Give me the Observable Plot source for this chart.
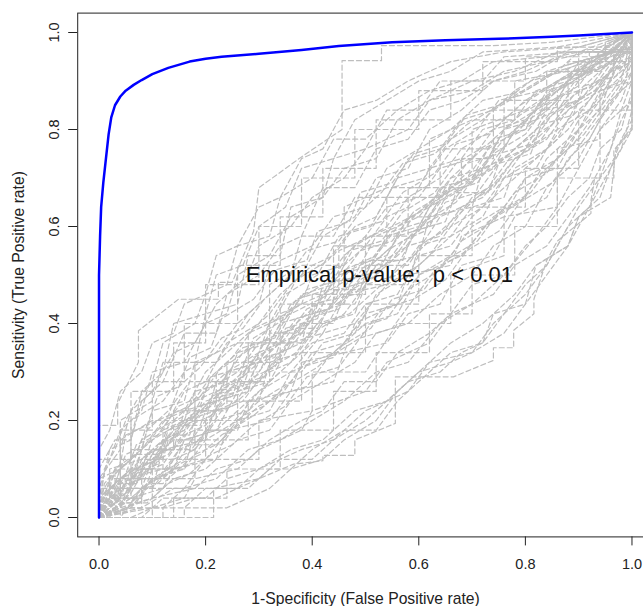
<!DOCTYPE html>
<html><head><meta charset="utf-8">
<script src="https://cdn.jsdelivr.net/npm/d3@7"></script>
<script src="https://cdn.jsdelivr.net/npm/@observablehq/plot@0.6"></script>
<style>
html,body{margin:0;padding:0;background:#fff;overflow:hidden;}
#chart svg{max-width:none !important;}
#chart svg text{white-space:pre;}
#chart g[aria-label="x-axis label"], #chart g[aria-label="y-axis label"]{font-size:15.7px;}
</style></head><body><div id="chart"></div>
<script>
// Observed ROC curve (blue)
const rocFPR = [0,0,0.002,0.004,0.008,0.012,0.018,0.023,0.03,0.04,0.05,0.065,0.08,0.1,0.13,0.17,0.2,0.23,0.3,0.38,0.45,0.55,0.65,0.75,0.85,0.9,0.95,1];
const rocTPR = [0,0.5,0.58,0.64,0.69,0.73,0.79,0.825,0.85,0.868,0.88,0.892,0.902,0.914,0.927,0.94,0.946,0.95,0.956,0.964,0.972,0.98,0.984,0.987,0.991,0.994,0.997,1];

// Permutation (null) ROC curves (grey dashed), [FPR, TPR] points
const nullCurves = [
[[0,0],[0,0.19],[0.035,0.19],[0.035,0.235],[0.074,0.32],[0.074,0.385],[0.149,0.45],[0.224,0.45],[0.224,0.485],[0.25,0.485],[0.29,0.59],[0.3,0.68],[0.378,0.742],[0.456,0.8],[0.456,0.942],[0.53,0.942],[0.53,0.973],[0.74,0.973],[0.85,0.98],[1,1]],
[[0,0],[0.215,0],[0.215,0.06],[0.3,0.08],[0.365,0.11],[0.42,0.117],[0.42,0.128],[0.48,0.128],[0.48,0.16],[0.556,0.194],[0.556,0.29],[0.665,0.29],[0.74,0.324],[0.74,0.35],[0.778,0.35],[0.778,0.386],[0.816,0.42],[0.816,0.45],[0.84,0.53],[0.86,0.57],[0.923,0.627],[0.923,0.653],[0.93,0.7],[0.966,0.7],[0.966,0.757],[1,0.805],[1,1]],
[[0,0],[0.03,0.02],[0.05,0.08],[0.12,0.1],[0.12,0.18],[0.2,0.22],[0.28,0.3],[0.28,0.38],[0.36,0.42],[0.45,0.47],[0.45,0.55],[0.55,0.6],[0.62,0.64],[0.7,0.72],[0.7,0.8],[0.8,0.84],[0.88,0.9],[0.95,0.93],[0.95,0.97],[1,1]],
[[0,0],[0,0.04],[0.06,0.1],[0.1,0.1],[0.16,0.2],[0.22,0.2],[0.22,0.3],[0.3,0.36],[0.38,0.36],[0.44,0.44],[0.5,0.52],[0.58,0.52],[0.64,0.62],[0.72,0.66],[0.78,0.74],[0.86,0.8],[0.86,0.88],[0.92,0.92],[1,0.96],[1,1]],
[[0,0],[0.04,0],[0.08,0.06],[0.14,0.1],[0.2,0.12],[0.26,0.2],[0.32,0.22],[0.36,0.3],[0.44,0.34],[0.5,0.4],[0.56,0.42],[0.6,0.5],[0.68,0.54],[0.74,0.62],[0.8,0.66],[0.84,0.74],[0.9,0.8],[0.94,0.88],[0.98,0.9],[1,1]],
[[0,0],[0,0.08],[0.04,0.14],[0.06,0.22],[0.1,0.26],[0.14,0.34],[0.18,0.36],[0.22,0.44],[0.28,0.5],[0.3,0.56],[0.36,0.6],[0.4,0.66],[0.46,0.7],[0.5,0.76],[0.58,0.8],[0.62,0.86],[0.7,0.9],[0.78,0.92],[0.86,0.96],[0.94,0.96],[1,1]],
[[0,0],[0.02,0.04],[0.02,0.1],[0.08,0.12],[0.12,0.16],[0.18,0.16],[0.18,0.24],[0.26,0.28],[0.3,0.34],[0.34,0.42],[0.42,0.46],[0.48,0.5],[0.52,0.58],[0.6,0.62],[0.66,0.7],[0.72,0.76],[0.8,0.8],[0.86,0.86],[0.9,0.94],[0.96,0.96],[1,1]],
[[0,0],[0.06,0.02],[0.12,0.02],[0.16,0.06],[0.22,0.08],[0.28,0.14],[0.34,0.16],[0.4,0.2],[0.46,0.24],[0.52,0.3],[0.58,0.32],[0.64,0.4],[0.7,0.44],[0.76,0.5],[0.82,0.58],[0.86,0.64],[0.9,0.72],[0.94,0.8],[0.98,0.86],[1,0.92],[1,1]],
[[0,0],[0.02,0.06],[0.06,0.1],[0.08,0.16],[0.14,0.2],[0.2,0.26],[0.24,0.3],[0.3,0.32],[0.34,0.4],[0.4,0.42],[0.44,0.5],[0.52,0.54],[0.56,0.6],[0.64,0.66],[0.7,0.7],[0.76,0.78],[0.82,0.84],[0.88,0.88],[0.92,0.94],[1,0.96],[1,1]],
[[0,0],[0.04,0.04],[0.06,0.04],[0.1,0.08],[0.16,0.12],[0.2,0.18],[0.24,0.18],[0.3,0.26],[0.36,0.3],[0.42,0.38],[0.48,0.4],[0.54,0.48],[0.6,0.52],[0.66,0.58],[0.72,0.62],[0.76,0.7],[0.82,0.74],[0.88,0.8],[0.92,0.86],[0.96,0.92],[1,1]],
[[0,0],[0,0.06],[0.02,0.12],[0.04,0.18],[0.08,0.22],[0.1,0.3],[0.16,0.32],[0.2,0.4],[0.24,0.42],[0.26,0.5],[0.32,0.54],[0.36,0.62],[0.42,0.66],[0.46,0.72],[0.52,0.74],[0.56,0.82],[0.62,0.86],[0.7,0.88],[0.76,0.92],[0.84,0.94],[0.92,0.96],[1,1]],
[[0,0],[0.08,0],[0.12,0.04],[0.2,0.04],[0.24,0.08],[0.3,0.1],[0.36,0.14],[0.42,0.16],[0.48,0.22],[0.54,0.24],[0.6,0.3],[0.66,0.36],[0.72,0.4],[0.78,0.46],[0.82,0.52],[0.88,0.56],[0.92,0.64],[0.96,0.72],[1,0.8],[1,1]],
[[0,0],[0.02,0.02],[0.04,0.08],[0.1,0.12],[0.14,0.18],[0.18,0.2],[0.22,0.26],[0.3,0.28],[0.34,0.34],[0.38,0.36],[0.4,0.44],[0.48,0.46],[0.52,0.52],[0.58,0.56],[0.62,0.64],[0.68,0.68],[0.74,0.72],[0.78,0.8],[0.86,0.84],[0.9,0.9],[0.96,0.94],[1,1]],
[[0,0],[0,0.02],[0.04,0.06],[0.08,0.08],[0.12,0.14],[0.18,0.14],[0.22,0.22],[0.26,0.24],[0.32,0.3],[0.36,0.32],[0.4,0.38],[0.46,0.42],[0.5,0.48],[0.56,0.5],[0.6,0.56],[0.66,0.6],[0.7,0.66],[0.76,0.7],[0.8,0.76],[0.86,0.82],[0.9,0.86],[0.96,0.9],[1,1]],
[[0,0],[0.02,0.08],[0.06,0.12],[0.06,0.2],[0.12,0.24],[0.16,0.3],[0.22,0.34],[0.26,0.4],[0.3,0.44],[0.32,0.52],[0.4,0.56],[0.44,0.62],[0.5,0.64],[0.54,0.72],[0.6,0.76],[0.66,0.8],[0.72,0.86],[0.8,0.88],[0.86,0.92],[0.92,0.94],[0.96,0.98],[1,1]],
[[0,0],[0.04,0.02],[0.1,0.04],[0.14,0.08],[0.2,0.1],[0.26,0.16],[0.32,0.18],[0.36,0.24],[0.42,0.28],[0.48,0.32],[0.52,0.38],[0.58,0.4],[0.64,0.46],[0.7,0.5],[0.74,0.56],[0.8,0.6],[0.84,0.68],[0.9,0.74],[0.94,0.82],[0.98,0.88],[1,0.94],[1,1]],
[[0,0],[0.06,0.06],[0.06,0.14],[0.14,0.14],[0.14,0.22],[0.24,0.22],[0.24,0.32],[0.34,0.32],[0.34,0.44],[0.44,0.44],[0.44,0.56],[0.54,0.56],[0.54,0.66],[0.64,0.66],[0.64,0.76],[0.76,0.76],[0.76,0.86],[0.88,0.86],[0.88,0.94],[1,0.94],[1,1]],
[[0,0],[0.1,0],[0.1,0.08],[0.18,0.08],[0.18,0.16],[0.28,0.16],[0.28,0.24],[0.38,0.24],[0.38,0.34],[0.5,0.34],[0.5,0.44],[0.6,0.44],[0.6,0.54],[0.7,0.54],[0.7,0.64],[0.8,0.64],[0.8,0.72],[0.9,0.72],[0.9,0.84],[1,0.84],[1,1]],
[[0,0],[0,0.12],[0.06,0.12],[0.06,0.26],[0.14,0.26],[0.14,0.36],[0.2,0.36],[0.2,0.48],[0.3,0.48],[0.3,0.6],[0.38,0.6],[0.38,0.7],[0.48,0.7],[0.48,0.8],[0.6,0.8],[0.6,0.88],[0.72,0.88],[0.72,0.94],[0.86,0.94],[0.86,0.97],[1,0.97],[1,1]],
[[0,0],[0.14,0],[0.14,0.04],[0.24,0.04],[0.24,0.1],[0.34,0.1],[0.34,0.18],[0.44,0.18],[0.44,0.26],[0.52,0.26],[0.52,0.34],[0.62,0.34],[0.62,0.42],[0.7,0.42],[0.7,0.5],[0.78,0.5],[0.78,0.6],[0.86,0.6],[0.86,0.7],[0.94,0.7],[0.94,0.8],[1,0.86],[1,1]],
[[0,0],[0.02,0.03],[0.05,0.05],[0.09,0.11],[0.13,0.13],[0.17,0.19],[0.21,0.21],[0.25,0.27],[0.31,0.29],[0.35,0.35],[0.39,0.41],[0.45,0.43],[0.49,0.49],[0.55,0.53],[0.59,0.59],[0.65,0.63],[0.69,0.69],[0.75,0.73],[0.81,0.79],[0.87,0.85],[0.93,0.91],[0.97,0.95],[1,1]],
[[0,0],[0.01,0.05],[0.05,0.09],[0.07,0.15],[0.11,0.17],[0.15,0.23],[0.19,0.25],[0.23,0.31],[0.27,0.35],[0.33,0.37],[0.37,0.45],[0.43,0.47],[0.47,0.55],[0.53,0.57],[0.57,0.63],[0.63,0.67],[0.67,0.73],[0.73,0.77],[0.79,0.83],[0.85,0.87],[0.91,0.93],[0.97,0.97],[1,1]],
[[0,0],[0.05,0.01],[0.07,0.05],[0.11,0.07],[0.15,0.11],[0.19,0.13],[0.23,0.17],[0.29,0.21],[0.33,0.25],[0.39,0.27],[0.43,0.33],[0.49,0.37],[0.53,0.43],[0.59,0.45],[0.63,0.51],[0.69,0.55],[0.73,0.61],[0.79,0.65],[0.83,0.71],[0.89,0.77],[0.93,0.83],[0.97,0.89],[1,0.95],[1,1]],
[[0,0],[0,0.04],[0.02,0.14],[0.06,0.16],[0.08,0.24],[0.12,0.28],[0.16,0.38],[0.22,0.38],[0.24,0.46],[0.3,0.5],[0.34,0.56],[0.38,0.58],[0.42,0.68],[0.48,0.68],[0.52,0.76],[0.58,0.78],[0.62,0.84],[0.68,0.86],[0.74,0.9],[0.82,0.92],[0.88,0.96],[0.96,0.96],[1,1]],
[[0,0],[0.06,0],[0.1,0.02],[0.16,0.04],[0.18,0.08],[0.26,0.1],[0.3,0.14],[0.38,0.18],[0.4,0.22],[0.5,0.26],[0.54,0.32],[0.62,0.36],[0.66,0.42],[0.74,0.46],[0.78,0.52],[0.84,0.56],[0.88,0.62],[0.92,0.68],[0.96,0.76],[0.98,0.84],[1,0.9],[1,1]],
[[0,0],[0.03,0.07],[0.07,0.07],[0.11,0.13],[0.15,0.15],[0.19,0.21],[0.25,0.23],[0.29,0.29],[0.33,0.31],[0.37,0.39],[0.41,0.39],[0.45,0.47],[0.51,0.49],[0.57,0.55],[0.61,0.61],[0.67,0.65],[0.71,0.71],[0.77,0.75],[0.83,0.81],[0.87,0.87],[0.93,0.89],[0.97,0.95],[1,1]],
[[0,0],[0.04,0.04],[0.04,0.16],[0.1,0.2],[0.18,0.2],[0.18,0.32],[0.26,0.36],[0.32,0.36],[0.32,0.48],[0.38,0.52],[0.46,0.52],[0.46,0.64],[0.54,0.68],[0.62,0.68],[0.62,0.78],[0.7,0.82],[0.78,0.82],[0.78,0.9],[0.88,0.92],[0.94,0.92],[0.94,0.96],[1,1]],
[[0,0],[0.08,0.02],[0.08,0.06],[0.16,0.06],[0.2,0.12],[0.3,0.12],[0.3,0.2],[0.4,0.22],[0.4,0.3],[0.5,0.3],[0.56,0.4],[0.66,0.4],[0.66,0.5],[0.76,0.54],[0.76,0.62],[0.86,0.64],[0.86,0.76],[0.94,0.78],[0.94,0.88],[1,0.9],[1,1]],
[[0,0],[0.01,0.02],[0.03,0.1],[0.07,0.1],[0.09,0.18],[0.13,0.22],[0.17,0.28],[0.23,0.28],[0.27,0.34],[0.31,0.38],[0.35,0.46],[0.41,0.5],[0.45,0.58],[0.51,0.6],[0.55,0.68],[0.61,0.7],[0.65,0.76],[0.71,0.8],[0.75,0.86],[0.83,0.88],[0.89,0.92],[0.95,0.94],[0.98,0.98],[1,1]],
[[0,0],[0.03,0.01],[0.07,0.03],[0.09,0.07],[0.13,0.09],[0.17,0.15],[0.23,0.15],[0.27,0.21],[0.31,0.23],[0.35,0.27],[0.41,0.31],[0.45,0.35],[0.51,0.39],[0.55,0.45],[0.61,0.47],[0.65,0.53],[0.71,0.57],[0.75,0.63],[0.81,0.67],[0.85,0.73],[0.91,0.79],[0.95,0.85],[0.99,0.91],[1,1]],
[[0,0],[0.02,0],[0.04,0.06],[0.1,0.06],[0.12,0.14],[0.2,0.16],[0.22,0.24],[0.28,0.26],[0.3,0.34],[0.38,0.38],[0.42,0.44],[0.48,0.44],[0.52,0.52],[0.6,0.54],[0.62,0.62],[0.7,0.64],[0.72,0.72],[0.8,0.76],[0.84,0.84],[0.9,0.86],[0.9,0.96],[1,0.96],[1,1]],
[[0,0],[0,0.08],[0.04,0.1],[0.04,0.2],[0.1,0.24],[0.12,0.32],[0.18,0.32],[0.2,0.42],[0.26,0.44],[0.28,0.54],[0.34,0.54],[0.36,0.64],[0.42,0.66],[0.44,0.74],[0.5,0.76],[0.54,0.84],[0.6,0.84],[0.64,0.9],[0.72,0.9],[0.76,0.95],[0.9,0.96],[1,1]],
[[0,0],[0.1,0.02],[0.16,0.02],[0.2,0.06],[0.28,0.06],[0.32,0.1],[0.36,0.1],[0.4,0.14],[0.46,0.18],[0.52,0.18],[0.56,0.24],[0.62,0.3],[0.66,0.34],[0.72,0.36],[0.74,0.42],[0.8,0.44],[0.82,0.52],[0.88,0.56],[0.9,0.62],[0.96,0.66],[0.97,0.76],[1,0.8],[1,1]],
[[0,0],[0.02,0.04],[0.04,0.04],[0.06,0.1],[0.1,0.1],[0.12,0.16],[0.16,0.18],[0.2,0.24],[0.26,0.26],[0.28,0.32],[0.34,0.34],[0.38,0.4],[0.44,0.4],[0.46,0.46],[0.54,0.48],[0.58,0.56],[0.64,0.58],[0.68,0.64],[0.74,0.68],[0.78,0.74],[0.84,0.78],[0.88,0.84],[0.94,0.88],[0.97,0.94],[1,1]],
[[0,0],[0.02,0.02],[0.02,0.08],[0.06,0.08],[0.1,0.14],[0.14,0.14],[0.16,0.22],[0.22,0.24],[0.24,0.3],[0.3,0.3],[0.34,0.38],[0.4,0.4],[0.42,0.48],[0.5,0.5],[0.54,0.58],[0.6,0.6],[0.64,0.68],[0.7,0.7],[0.74,0.78],[0.8,0.8],[0.84,0.88],[0.9,0.9],[0.94,0.96],[1,0.96],[1,1]],
[[0,0],[0,0.1],[0.03,0.16],[0.06,0.16],[0.08,0.26],[0.12,0.3],[0.14,0.4],[0.2,0.42],[0.22,0.5],[0.27,0.52],[0.3,0.6],[0.35,0.64],[0.38,0.72],[0.44,0.74],[0.48,0.82],[0.54,0.86],[0.6,0.9],[0.66,0.92],[0.72,0.96],[0.86,0.97],[1,1]],
[[0,0],[0.06,0.04],[0.12,0.06],[0.14,0.1],[0.22,0.12],[0.24,0.18],[0.32,0.2],[0.36,0.26],[0.44,0.28],[0.46,0.34],[0.54,0.36],[0.58,0.42],[0.64,0.44],[0.68,0.52],[0.74,0.54],[0.78,0.62],[0.84,0.66],[0.88,0.74],[0.92,0.78],[0.96,0.86],[1,0.9],[1,1]],
[[0,0],[0.01,0.03],[0.03,0.05],[0.05,0.09],[0.09,0.11],[0.11,0.15],[0.15,0.17],[0.17,0.21],[0.21,0.23],[0.23,0.27],[0.27,0.29],[0.31,0.33],[0.35,0.37],[0.39,0.43],[0.43,0.45],[0.47,0.51],[0.51,0.53],[0.55,0.59],[0.61,0.61],[0.65,0.67],[0.71,0.69],[0.75,0.75],[0.81,0.77],[0.85,0.83],[0.91,0.87],[0.95,0.93],[1,0.95],[1,1]],
[[0,0],[0.03,0.05],[0.05,0.05],[0.07,0.09],[0.11,0.11],[0.13,0.17],[0.17,0.17],[0.19,0.23],[0.25,0.25],[0.27,0.31],[0.33,0.33],[0.35,0.39],[0.41,0.41],[0.43,0.47],[0.49,0.47],[0.51,0.53],[0.57,0.53],[0.59,0.59],[0.65,0.61],[0.67,0.67],[0.73,0.67],[0.75,0.73],[0.81,0.75],[0.83,0.81],[0.89,0.83],[0.91,0.89],[0.97,0.91],[1,0.96],[1,1]],
[[0,0],[0.01,0.07],[0.04,0.11],[0.05,0.17],[0.09,0.19],[0.11,0.25],[0.15,0.27],[0.17,0.33],[0.21,0.35],[0.23,0.41],[0.29,0.45],[0.33,0.51],[0.39,0.53],[0.41,0.59],[0.47,0.61],[0.49,0.67],[0.55,0.69],[0.59,0.75],[0.65,0.77],[0.69,0.83],[0.75,0.85],[0.81,0.9],[0.87,0.92],[0.93,0.95],[1,0.97],[1,1]],
[[0,0],[0.12,0],[0.12,0.02],[0.18,0.04],[0.22,0.04],[0.26,0.06],[0.3,0.08],[0.34,0.12],[0.4,0.12],[0.44,0.16],[0.5,0.2],[0.52,0.22],[0.58,0.28],[0.64,0.3],[0.68,0.34],[0.72,0.36],[0.76,0.42],[0.8,0.48],[0.84,0.52],[0.88,0.6],[0.92,0.64],[0.94,0.7],[0.98,0.76],[1,0.84],[1,1]],
[[0,0],[0.1,0.04],[0.18,0.06],[0.26,0.06],[0.3,0.1],[0.38,0.14],[0.44,0.16],[0.5,0.22],[0.58,0.26],[0.62,0.32],[0.7,0.34],[0.74,0.4],[0.8,0.46],[0.84,0.52],[0.88,0.6],[0.9,0.64],[0.94,0.7],[0.96,0.76],[0.98,0.82],[1,0.86],[1,1]],
[[0,0],[0,0.02],[0.02,0.06],[0.06,0.06],[0.08,0.12],[0.12,0.12],[0.14,0.2],[0.2,0.2],[0.22,0.28],[0.28,0.28],[0.32,0.36],[0.36,0.36],[0.4,0.42],[0.46,0.44],[0.48,0.52],[0.54,0.54],[0.58,0.62],[0.62,0.62],[0.66,0.7],[0.72,0.72],[0.76,0.8],[0.82,0.82],[0.86,0.9],[0.92,0.92],[0.96,0.96],[1,1]],
[[0,0],[0,0.06],[0.04,0.06],[0.04,0.18],[0.1,0.18],[0.1,0.28],[0.16,0.28],[0.16,0.4],[0.26,0.4],[0.26,0.52],[0.34,0.52],[0.34,0.62],[0.42,0.62],[0.42,0.72],[0.52,0.72],[0.52,0.82],[0.66,0.82],[0.66,0.9],[0.8,0.9],[0.8,0.95],[0.95,0.95],[0.95,0.98],[1,1]],
[[0,0],[0.04,0],[0.04,0.08],[0.1,0.08],[0.1,0.12],[0.2,0.12],[0.2,0.2],[0.26,0.2],[0.26,0.28],[0.32,0.28],[0.32,0.38],[0.4,0.38],[0.4,0.46],[0.5,0.46],[0.5,0.58],[0.58,0.58],[0.58,0.68],[0.68,0.68],[0.68,0.74],[0.74,0.74],[0.74,0.84],[0.84,0.84],[0.84,0.92],[0.92,0.92],[0.92,0.96],[1,0.96],[1,1]],
[[0,0],[0.04,0.02],[0.06,0.08],[0.12,0.08],[0.16,0.16],[0.22,0.18],[0.26,0.26],[0.32,0.28],[0.36,0.36],[0.42,0.38],[0.46,0.46],[0.52,0.5],[0.56,0.58],[0.62,0.6],[0.66,0.68],[0.72,0.72],[0.76,0.8],[0.82,0.84],[0.86,0.9],[0.93,0.93],[0.966,0.965],[1,0.965],[1,1]],
[[0,0],[0.02,0.04],[0.08,0.04],[0.1,0.1],[0.16,0.1],[0.18,0.18],[0.26,0.18],[0.28,0.24],[0.36,0.26],[0.38,0.32],[0.46,0.34],[0.48,0.4],[0.56,0.44],[0.58,0.5],[0.66,0.52],[0.68,0.58],[0.76,0.62],[0.8,0.7],[0.86,0.72],[0.9,0.8],[0.94,0.84],[0.966,0.92],[0.966,0.965],[1,1]],
[[0,0],[0.01,0.1],[0.03,0.14],[0.05,0.2],[0.07,0.24],[0.1,0.28],[0.12,0.36],[0.18,0.4],[0.2,0.46],[0.24,0.48],[0.26,0.56],[0.32,0.58],[0.34,0.66],[0.4,0.7],[0.44,0.78],[0.5,0.78],[0.56,0.84],[0.62,0.88],[0.68,0.9],[0.74,0.94],[0.84,0.95],[0.9,0.97],[1,1]],
[[0,0],[0.04,0.06],[0.08,0.06],[0.1,0.12],[0.14,0.16],[0.18,0.22],[0.22,0.22],[0.24,0.3],[0.3,0.34],[0.32,0.4],[0.38,0.44],[0.4,0.5],[0.46,0.52],[0.5,0.56],[0.54,0.62],[0.58,0.64],[0.62,0.72],[0.68,0.74],[0.72,0.8],[0.78,0.82],[0.82,0.88],[0.88,0.9],[0.92,0.94],[0.966,0.94],[0.966,0.98],[1,1]],
[[0,0],[0.06,0.02],[0.08,0.02],[0.14,0.06],[0.18,0.06],[0.22,0.1],[0.28,0.12],[0.32,0.16],[0.38,0.2],[0.42,0.22],[0.46,0.28],[0.52,0.28],[0.56,0.34],[0.62,0.38],[0.66,0.42],[0.7,0.48],[0.76,0.5],[0.8,0.56],[0.84,0.6],[0.88,0.66],[0.92,0.7],[0.94,0.76],[0.98,0.8],[1,0.88],[1,1]],
[[0,0],[0.02,0.01],[0.04,0.03],[0.06,0.03],[0.08,0.05],[0.1,0.07],[0.12,0.07],[0.14,0.09],[0.18,0.13],[0.22,0.15],[0.26,0.19],[0.3,0.23],[0.34,0.25],[0.38,0.31],[0.44,0.33],[0.48,0.39],[0.54,0.41],[0.58,0.47],[0.64,0.51],[0.68,0.57],[0.74,0.61],[0.78,0.67],[0.84,0.71],[0.88,0.77],[0.92,0.83],[0.96,0.89],[1,0.93],[1,1]],
[[0,0],[0.01,0.01],[0.03,0.03],[0.05,0.07],[0.07,0.07],[0.09,0.13],[0.13,0.15],[0.15,0.19],[0.19,0.19],[0.21,0.25],[0.27,0.27],[0.29,0.33],[0.33,0.35],[0.37,0.41],[0.43,0.43],[0.47,0.49],[0.53,0.51],[0.57,0.57],[0.61,0.59],[0.65,0.65],[0.71,0.67],[0.75,0.73],[0.79,0.77],[0.85,0.81],[0.89,0.87],[0.95,0.91],[1,0.95],[1,1]],
[[0,0],[0,0.04],[0.03,0.1],[0.08,0.14],[0.1,0.22],[0.16,0.24],[0.18,0.32],[0.22,0.32],[0.28,0.42],[0.32,0.46],[0.36,0.5],[0.38,0.58],[0.44,0.58],[0.48,0.66],[0.54,0.66],[0.58,0.74],[0.64,0.76],[0.68,0.82],[0.74,0.84],[0.8,0.88],[0.86,0.92],[0.9,0.96],[1,0.96],[1,1]],
[[0,0],[0.06,0.04],[0.06,0.1],[0.1,0.14],[0.16,0.14],[0.2,0.2],[0.24,0.24],[0.3,0.24],[0.32,0.32],[0.38,0.34],[0.42,0.4],[0.48,0.42],[0.5,0.48],[0.58,0.48],[0.6,0.56],[0.66,0.58],[0.7,0.64],[0.76,0.66],[0.78,0.72],[0.84,0.76],[0.88,0.82],[0.92,0.86],[0.96,0.92],[1,0.94],[1,1]],
[[0,0],[0,0.14],[0.02,0.18],[0.04,0.26],[0.08,0.3],[0.1,0.36],[0.14,0.38],[0.16,0.44],[0.2,0.46],[0.22,0.54],[0.26,0.56],[0.3,0.64],[0.34,0.66],[0.38,0.74],[0.42,0.76],[0.46,0.84],[0.52,0.86],[0.58,0.9],[0.66,0.94],[0.76,0.96],[0.9,0.97],[1,1]],
[[0,0],[0.16,0],[0.16,0.02],[0.24,0.02],[0.28,0.04],[0.32,0.06],[0.36,0.1],[0.42,0.12],[0.46,0.16],[0.52,0.2],[0.56,0.26],[0.6,0.3],[0.66,0.32],[0.7,0.34],[0.76,0.38],[0.8,0.44],[0.84,0.5],[0.88,0.56],[0.9,0.62],[0.94,0.66],[0.96,0.72],[0.98,0.78],[1,0.82],[1,1]],
[[0,0],[0.02,0.02],[0.04,0.06],[0.08,0.1],[0.12,0.16],[0.16,0.18],[0.2,0.26],[0.26,0.3],[0.3,0.36],[0.34,0.38],[0.38,0.46],[0.44,0.48],[0.48,0.56],[0.54,0.6],[0.58,0.66],[0.64,0.7],[0.68,0.76],[0.74,0.8],[0.8,0.86],[0.86,0.9],[0.92,0.94],[0.966,0.96],[1,1]],
[[0,0],[0.04,0.02],[0.06,0.06],[0.1,0.06],[0.14,0.12],[0.18,0.14],[0.22,0.2],[0.28,0.22],[0.32,0.28],[0.36,0.32],[0.4,0.36],[0.46,0.38],[0.5,0.44],[0.56,0.46],[0.6,0.54],[0.66,0.56],[0.7,0.62],[0.76,0.68],[0.8,0.72],[0.86,0.78],[0.9,0.86],[0.94,0.9],[0.98,0.94],[1,1]],
[[0,0],[0,0.03],[0.03,0.07],[0.05,0.13],[0.09,0.15],[0.13,0.21],[0.17,0.23],[0.21,0.29],[0.25,0.33],[0.29,0.39],[0.33,0.41],[0.37,0.49],[0.43,0.53],[0.47,0.59],[0.53,0.61],[0.57,0.67],[0.63,0.71],[0.67,0.77],[0.73,0.79],[0.79,0.85],[0.85,0.89],[0.91,0.93],[0.966,0.97],[1,1]],
[[0,0],[0.02,0.01],[0.06,0.05],[0.08,0.09],[0.12,0.11],[0.16,0.17],[0.2,0.19],[0.24,0.25],[0.28,0.27],[0.32,0.33],[0.36,0.35],[0.4,0.41],[0.46,0.45],[0.5,0.51],[0.54,0.55],[0.6,0.59],[0.64,0.65],[0.7,0.69],[0.74,0.75],[0.8,0.79],[0.84,0.85],[0.9,0.89],[0.94,0.95],[1,0.97],[1,1]],
[[0,0],[0.03,0.03],[0.03,0.09],[0.07,0.13],[0.11,0.13],[0.13,0.19],[0.19,0.23],[0.21,0.29],[0.27,0.31],[0.29,0.37],[0.35,0.41],[0.39,0.47],[0.45,0.49],[0.49,0.55],[0.55,0.57],[0.59,0.63],[0.65,0.67],[0.69,0.73],[0.75,0.75],[0.79,0.81],[0.85,0.85],[0.89,0.91],[0.95,0.93],[1,0.97],[1,1]],
[[0,0],[0.05,0.03],[0.09,0.03],[0.13,0.07],[0.17,0.09],[0.21,0.13],[0.25,0.15],[0.29,0.19],[0.35,0.23],[0.39,0.29],[0.45,0.31],[0.49,0.37],[0.55,0.39],[0.59,0.45],[0.65,0.49],[0.69,0.55],[0.75,0.59],[0.79,0.65],[0.85,0.69],[0.89,0.75],[0.93,0.81],[0.97,0.87],[1,0.92],[1,1]],
[[0,0],[0.01,0.05],[0.03,0.09],[0.07,0.13],[0.09,0.19],[0.13,0.21],[0.15,0.27],[0.19,0.31],[0.23,0.37],[0.27,0.39],[0.31,0.45],[0.35,0.49],[0.39,0.55],[0.45,0.57],[0.49,0.63],[0.53,0.67],[0.57,0.73],[0.63,0.75],[0.69,0.81],[0.75,0.85],[0.81,0.89],[0.87,0.93],[0.93,0.95],[1,0.97],[1,1]],
[[0,0],[0.04,0.04],[0.08,0.04],[0.08,0.1],[0.14,0.1],[0.16,0.16],[0.22,0.18],[0.26,0.22],[0.3,0.26],[0.34,0.3],[0.38,0.3],[0.42,0.36],[0.48,0.38],[0.52,0.46],[0.58,0.5],[0.62,0.54],[0.66,0.6],[0.72,0.64],[0.76,0.7],[0.82,0.72],[0.86,0.8],[0.92,0.84],[0.96,0.9],[1,0.94],[1,1]],
[[0,0],[0.02,0.04],[0.04,0.1],[0.08,0.14],[0.12,0.2],[0.16,0.22],[0.2,0.3],[0.24,0.34],[0.28,0.38],[0.32,0.42],[0.36,0.48],[0.4,0.52],[0.44,0.54],[0.48,0.6],[0.52,0.62],[0.56,0.7],[0.62,0.72],[0.66,0.78],[0.72,0.82],[0.78,0.88],[0.84,0.92],[0.9,0.94],[0.966,0.96],[1,1]],
[[0,0],[0.03,0.02],[0.05,0.04],[0.07,0.08],[0.11,0.08],[0.15,0.14],[0.19,0.16],[0.23,0.22],[0.27,0.24],[0.31,0.3],[0.37,0.34],[0.41,0.4],[0.47,0.42],[0.53,0.48],[0.57,0.52],[0.63,0.58],[0.67,0.62],[0.73,0.68],[0.77,0.74],[0.83,0.78],[0.87,0.84],[0.93,0.88],[0.97,0.94],[1,1]],
[[0,0],[0.02,0.06],[0.06,0.08],[0.08,0.14],[0.12,0.18],[0.16,0.26],[0.2,0.28],[0.24,0.36],[0.3,0.4],[0.34,0.46],[0.38,0.5],[0.42,0.58],[0.48,0.62],[0.52,0.7],[0.58,0.72],[0.62,0.8],[0.68,0.84],[0.74,0.9],[0.8,0.92],[0.86,0.95],[0.92,0.965],[1,0.965],[1,1]],
[[0,0],[0.06,0.02],[0.1,0.08],[0.16,0.1],[0.2,0.16],[0.26,0.2],[0.3,0.24],[0.36,0.28],[0.4,0.34],[0.46,0.36],[0.5,0.42],[0.56,0.44],[0.6,0.5],[0.66,0.54],[0.7,0.6],[0.76,0.64],[0.8,0.7],[0.86,0.74],[0.9,0.82],[0.94,0.86],[0.966,0.92],[1,0.94],[1,1]],
[[0,0],[0.01,0.02],[0.05,0.04],[0.07,0.1],[0.11,0.12],[0.13,0.18],[0.17,0.2],[0.21,0.24],[0.25,0.28],[0.29,0.32],[0.33,0.36],[0.37,0.4],[0.41,0.44],[0.45,0.5],[0.51,0.52],[0.55,0.56],[0.59,0.62],[0.63,0.66],[0.69,0.7],[0.73,0.76],[0.79,0.8],[0.83,0.86],[0.89,0.9],[0.95,0.95],[1,1]],
[[0,0],[0.04,0.08],[0.08,0.1],[0.1,0.16],[0.16,0.2],[0.18,0.26],[0.24,0.28],[0.26,0.34],[0.32,0.36],[0.36,0.44],[0.42,0.48],[0.46,0.54],[0.5,0.58],[0.54,0.64],[0.6,0.66],[0.64,0.72],[0.7,0.74],[0.74,0.8],[0.8,0.82],[0.86,0.88],[0.9,0.92],[0.96,0.95],[1,0.97],[1,1]]
];

const xTicks = [0, 0.2, 0.4, 0.6, 0.8, 1.0];
const yTicks = [0, 0.2, 0.4, 0.6, 0.8, 1.0];
const xTitle = "1-Specificity (False Positive rate)";
const yTitle = "Sensitivity (True Positive rate)";
const pText = ["Empirical p-value:  p < 0.01"];
const pTextAt = [0.526, 0.5];

const rocRows = rocFPR.map((x, i) => ({x, y: rocTPR[i]}));
const nullRows = nullCurves.flatMap((c, id) => c.map(([x, y]) => ({x, y, id})));

const chart = Plot.plot({
  width: 653,
  height: 606,
  marginLeft: 77.2,
  marginRight: 0.2,
  marginTop: 12.6,
  marginBottom: 69.6,
  style: {fontFamily: "'Liberation Sans', Arial, sans-serif", fontSize: "14.5px", color: "#222", background: "#fff"},
  x: {domain: [-0.04, 1.04]},
  y: {domain: [-0.04, 1.04]},
  marks: [
    Plot.line(nullRows, {x: "x", y: "y", z: "id", stroke: "#bebebe", strokeWidth: 1.2, strokeDasharray: "5,3"}),
    Plot.line(rocRows, {x: "x", y: "y", stroke: "#0000ff", strokeWidth: 2.5}),
    Plot.text(pText, {x: () => pTextAt[0], y: () => pTextAt[1], text: d => d, fontSize: 22, fill: "#111", textAnchor: "middle", lineAnchor: "middle"}),
    Plot.frame({stroke: "#222", strokeWidth: 1}),
    Plot.axisX({ticks: xTicks, tickFormat: d3.format(".1f"), tickSize: 9, tickPadding: 13, fontSize: 14.5, label: xTitle, labelAnchor: "center", labelArrow: "none", labelOffset: 66.6, stroke: "#222"}),
    Plot.axisY({ticks: yTicks, tickFormat: d3.format(".1f"), tickSize: 9, tickPadding: 10, fontSize: 14.5, tickRotate: -90, label: yTitle, labelAnchor: "center", labelArrow: "none", labelOffset: 64.5, stroke: "#222"})
  ]
});
document.getElementById("chart").appendChild(chart);
</script></body></html>
